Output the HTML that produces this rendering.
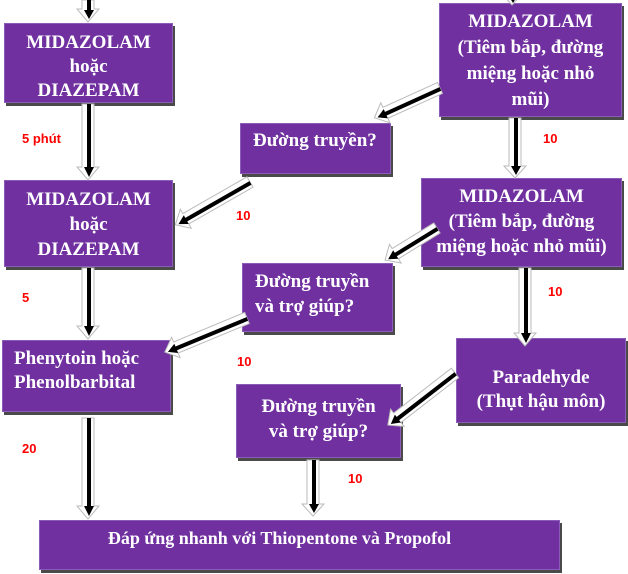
<!DOCTYPE html>
<html><head><meta charset="utf-8"><style>
body{margin:0;width:628px;height:574px;background:#fff;position:relative;overflow:hidden;font-family:"Liberation Serif",serif}
.b{position:absolute;background:#7030a0;color:#fff;font-family:"Liberation Serif",serif;font-weight:bold;font-size:18px;line-height:22px;text-align:center;box-shadow:2px 3px 0 #4a4a4a;box-sizing:border-box;border:1px solid #8a5cb8}
.l{position:absolute;color:#f00;font-family:"Liberation Sans",sans-serif;font-weight:bold;font-size:13px}
svg{position:absolute;left:0;top:0}
</style></head><body>
<div class="b" style="left:4px;top:23px;width:169px;height:80px;padding-top:7px;font-size:19px;line-height:24px">MIDAZOLAM<br>hoặc<br>DIAZEPAM</div>
<div class="b" style="left:439px;top:3px;width:183px;height:114px;padding-top:5px;font-size:19px;line-height:26px">MIDAZOLAM<br>(Tiêm bắp, đường<br>miệng hoặc nhỏ<br>mũi)</div>
<div class="b" style="left:240px;top:123px;width:151px;height:51px;padding-top:6px;text-align:left;padding-left:12px;font-size:19px">Đường truyền?</div>
<div class="b" style="left:4px;top:180px;width:169px;height:87px;padding-top:6px;font-size:19px;line-height:25px">MIDAZOLAM<br>hoặc<br>DIAZEPAM</div>
<div class="b" style="left:421px;top:178px;width:201px;height:89px;padding-top:5px;font-size:19px;line-height:25px">MIDAZOLAM<br>(Tiêm bắp, đường<br>miệng hoặc nhỏ mũi)</div>
<div class="b" style="left:242px;top:263px;width:151px;height:69px;padding-top:5px;text-align:left;padding-left:12px;line-height:25px;font-size:19px">Đường truyền<br>và trợ giúp?</div>
<div class="b" style="left:2px;top:340px;width:169px;height:72px;padding-top:6px;text-align:left;padding-left:11px;line-height:24px;font-size:19px">Phenytoin hoặc<br>Phenolbarbital</div>
<div class="b" style="left:456px;top:338px;width:170px;height:85px;padding-top:27px;line-height:24px;font-size:19px">Paradehyde<br>(Thụt hậu môn)</div>
<div class="b" style="left:236px;top:384px;width:165px;height:74px;padding-top:9px;line-height:25px;font-size:19px">Đường truyền<br>và trợ giúp?</div>
<div class="b" style="left:39px;top:520px;width:521px;height:50px;padding-top:6px;padding-right:40px;font-size:18px">Đáp ứng nhanh với Thiopentone và Propofol</div>
<div class="l" style="left:22px;top:131px">5 phút</div>
<div class="l" style="left:543px;top:131px">10</div>
<div class="l" style="left:236px;top:208px">10</div>
<div class="l" style="left:22px;top:290px">5</div>
<div class="l" style="left:548px;top:284px">10</div>
<div class="l" style="left:237px;top:354px">10</div>
<div class="l" style="left:22px;top:441px">20</div>
<div class="l" style="left:348px;top:471px">10</div>
<svg width="628" height="574">
<g transform="translate(88,0) rotate(90)"><polygon points="0,-6 9,-6 9,-11 22,0 9,11 9,6 0,6" fill="#fff" stroke="#bbb"/><line x1="0" y1="-1" x2="12" y2="-1" stroke="#000" stroke-width="4"/><polygon points="10,-6 19,-1 10,4" fill="#000"/></g>
<g transform="translate(512,-8) rotate(90)"><polygon points="0,-6 1,-6 1,-11 13,0 1,11 1,6 0,6" fill="#fff" stroke="#bbb"/><line x1="0" y1="-1" x2="5" y2="-1" stroke="#000" stroke-width="4"/><polygon points="3,-6 11,-1 3,4" fill="#000"/></g>
<g transform="translate(88,104) rotate(90)"><polygon points="0,-6 63,-6 63,-11 76,0 63,11 63,6 0,6" fill="#fff" stroke="#bbb"/><line x1="0" y1="-1" x2="66" y2="-1" stroke="#000" stroke-width="4"/><polygon points="63,-6 73,-1 63,4" fill="#000"/></g>
<g transform="translate(515,118) rotate(90)"><polygon points="0,-6 48,-6 48,-11 60,0 48,11 48,6 0,6" fill="#fff" stroke="#bbb"/><line x1="0" y1="-1" x2="50" y2="-1" stroke="#000" stroke-width="4"/><polygon points="48,-6 57,-1 48,4" fill="#000"/></g>
<g transform="translate(88,268) rotate(90)"><polygon points="0,-6 58,-6 58,-11 71,0 58,11 58,6 0,6" fill="#fff" stroke="#bbb"/><line x1="0" y1="-1" x2="60" y2="-1" stroke="#000" stroke-width="4"/><polygon points="58,-6 68,-1 58,4" fill="#000"/></g>
<g transform="translate(525,268) rotate(90)"><polygon points="0,-6 65,-6 65,-11 78,0 65,11 65,6 0,6" fill="#fff" stroke="#bbb"/><line x1="0" y1="-1" x2="67" y2="-1" stroke="#000" stroke-width="4"/><polygon points="65,-6 75,-1 65,4" fill="#000"/></g>
<g transform="translate(88,418) rotate(90)"><polygon points="0,-6 88,-6 88,-11 101,0 88,11 88,6 0,6" fill="#fff" stroke="#bbb"/><line x1="0" y1="-1" x2="90" y2="-1" stroke="#000" stroke-width="4"/><polygon points="88,-6 98,-1 88,4" fill="#000"/></g>
<g transform="translate(313,460) rotate(90)"><polygon points="0,-6 44,-6 44,-11 56,0 44,11 44,6 0,6" fill="#fff" stroke="#bbb"/><line x1="0" y1="-1" x2="46" y2="-1" stroke="#000" stroke-width="4"/><polygon points="44,-6 53,-1 44,4" fill="#000"/></g>
<g transform="translate(440,88) rotate(155.6)"><polygon points="0,-6 60,-6 60,-11 72,0 60,11 60,6 0,6" fill="#fff" stroke="#bbb"/><line x1="0" y1="-1" x2="62" y2="-1" stroke="#000" stroke-width="4"/><polygon points="60,-6 69,-1 60,4" fill="#000"/></g>
<g transform="translate(250,182) rotate(150.2)"><polygon points="0,-6 74,-6 74,-11 86,0 74,11 74,6 0,6" fill="#fff" stroke="#bbb"/><line x1="0" y1="-1" x2="76" y2="-1" stroke="#000" stroke-width="4"/><polygon points="74,-6 83,-1 74,4" fill="#000"/></g>
<g transform="translate(437,228) rotate(148.4)"><polygon points="0,-6 49,-6 49,-11 61,0 49,11 49,6 0,6" fill="#fff" stroke="#bbb"/><line x1="0" y1="-1" x2="51" y2="-1" stroke="#000" stroke-width="4"/><polygon points="49,-6 58,-1 49,4" fill="#000"/></g>
<g transform="translate(247,318) rotate(157.5)"><polygon points="0,-6 77,-6 77,-11 89,0 77,11 77,6 0,6" fill="#fff" stroke="#bbb"/><line x1="0" y1="-1" x2="79" y2="-1" stroke="#000" stroke-width="4"/><polygon points="77,-6 86,-1 77,4" fill="#000"/></g>
<g transform="translate(455,373) rotate(142.2)"><polygon points="0,-6 73,-6 73,-11 85,0 73,11 73,6 0,6" fill="#fff" stroke="#bbb"/><line x1="0" y1="-1" x2="75" y2="-1" stroke="#000" stroke-width="4"/><polygon points="73,-6 82,-1 73,4" fill="#000"/></g>
</svg>
</body></html>
